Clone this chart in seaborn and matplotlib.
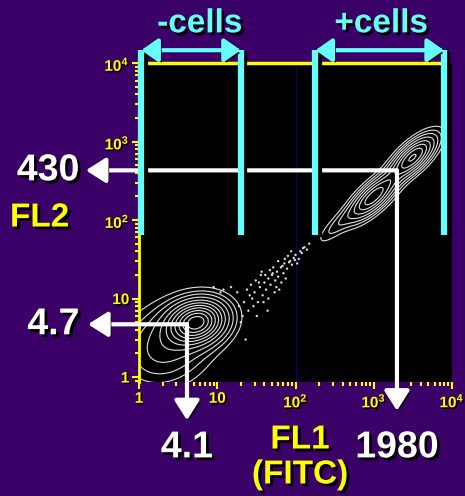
import matplotlib
matplotlib.use("Agg")
import matplotlib.pyplot as plt
import matplotlib.patheffects as pe
import numpy as np
import pandas as pd
import seaborn as sns

# colours
bg = "#3a0068"
cyan = "#66ffff"
yellow = "#ffff00"

# populations in log10 decades: (x centre, y centre, sd major, sd minor, angle deg, weight)
pop_x = [0.74, 0.35, 3.00, 3.50, 2.55]
pop_y = [0.70, 0.40, 2.30, 2.80, 1.95]
pop_sd_major = [0.22, 0.36, 0.24, 0.22, 0.22]
pop_sd_minor = [0.16, 0.28, 0.09, 0.09, 0.065]
pop_angle = [15, 30, 43, 43, 43]
pop_weight = [1.0, 0.22, 0.55, 0.6, 0.08]
contour_levels = [0.03, 0.06, 0.1, 0.16, 0.24, 0.33, 0.43, 0.54, 0.66, 0.78, 0.9]

# scattered events between the populations (FL1, FL2)
dot_fl1 = [22, 25, 28, 30, 24, 33, 35, 38, 40, 42, 45, 48, 50, 55, 58, 60, 65, 70, 72, 78,
           85, 90, 95, 100, 110, 115, 120, 130, 140, 150, 32, 45, 27, 52, 66, 36, 80, 18,
           20, 23, 60, 105, 12, 15, 9, 62, 44, 29, 37, 54, 75, 88, 26, 31, 47, 11, 200,
           34, 41, 57, 68, 83, 98, 125, 21, 19, 39, 51, 73]
dot_fl2 = [9, 7, 10, 12, 13, 9, 14, 11, 16, 13, 18, 15, 20, 17, 22, 19, 25, 21, 28, 24,
           30, 27, 33, 36, 32, 40, 38, 45, 42, 50, 6, 10, 15, 25, 16, 20, 35, 12,
           5, 3, 30, 28, 13, 14, 14, 13, 7, 8, 22, 12, 18, 40, 11, 17, 23, 12, 120,
           16, 20, 14, 26, 29, 31, 44, 6, 8, 9, 21, 32]
dots = pd.DataFrame({"FL1": dot_fl1, "FL2": dot_fl2})

# gates and readouts
neg_gate = [1.07, 20]
pos_gate = [180, 7900]
gate_top = 14600
gate_bottom = 65
neg_mean = (4.1, 4.7)
pos_mean = (1980, 430)
ticks = [1, 10, 100, 1000, 10000]
tick_labels = ["1", "10", r"$\mathbf{10^2}$", r"$\mathbf{10^3}$", r"$\mathbf{10^4}$"]

sns.set_style("dark")
plt.rcParams["font.family"] = ["Liberation Sans", "DejaVu Sans"]
plt.rcParams["mathtext.fontset"] = "custom"
plt.rcParams["mathtext.bf"] = "Liberation Sans:bold"
plt.rcParams["mathtext.rm"] = "Liberation Sans:bold"

fig = plt.figure(figsize=(4.65, 4.96), dpi=100)
fig.patch.set_facecolor(bg)
ax = fig.add_axes([0.299, 0.2298, 0.673, 0.643])
ax.set_facecolor("black")
ax.set_xscale("log")
ax.set_yscale("log")
ax.set_xlim(1, 1e4)
ax.set_ylim(0.864, 1e4)

# density grid in log space
gx, gy = np.meshgrid(np.linspace(0, 4, 400), np.linspace(-0.1, 4, 400))
dens = np.zeros_like(gx)
for cx, cy, sa, sb, ang, w in zip(pop_x, pop_y, pop_sd_major, pop_sd_minor, pop_angle, pop_weight):
    t = np.deg2rad(ang)
    u = (gx - cx) * np.cos(t) + (gy - cy) * np.sin(t)
    v = -(gx - cx) * np.sin(t) + (gy - cy) * np.cos(t)
    dens += w * np.exp(-0.5 * ((u / sa) ** 2 + (v / sb) ** 2))
dens = dens / dens.max()
ax.contour(10 ** gx, 10 ** gy, dens, levels=contour_levels, colors="#e0e0e0", linewidths=0.8)

sns.scatterplot(data=dots, x="FL1", y="FL2", s=3, color="#d8d8d8", edgecolor="none", ax=ax)

# faint grid line at 10^2
ax.axvline(100, color="#000080", lw=0.8, zorder=0.5)

shadow_txt = [pe.withSimplePatchShadow(offset=(2, -2), shadow_rgbFace="black", alpha=1)]
shadow_line = [pe.SimpleLineShadow(offset=(2.5, -1.5), shadow_color="black", alpha=1), pe.Normal()]

# readout arrows
arrow_kw = dict(arrowstyle="-|>,head_length=0.6,head_width=0.38", color="white", lw=3,
                shrinkA=0, shrinkB=0, mutation_scale=20)
for xy, xytext, tr in [((-0.17, pos_mean[1]), pos_mean, ax.get_yaxis_transform()),
                       ((pos_mean[0], -0.09), pos_mean, ax.get_xaxis_transform()),
                       ((-0.163, neg_mean[1]), neg_mean, ax.get_yaxis_transform()),
                       ((neg_mean[0], -0.12), neg_mean, ax.get_xaxis_transform())]:
    a = ax.annotate("", xy=xy, xycoords=tr, xytext=xytext, textcoords="data",
                    arrowprops=arrow_kw, annotation_clip=False, zorder=5)
    a.arrow_patch.set_path_effects([pe.withSimplePatchShadow(offset=(2, -2), shadow_rgbFace="black", alpha=1)])

# gates
for lo, hi in [neg_gate, pos_gate]:
    for xv in (lo, hi):
        ax.plot([xv, xv], [gate_bottom, gate_top], color=cyan, lw=4.5, clip_on=False,
                solid_capstyle="butt", path_effects=shadow_line, zorder=6)
    g = ax.annotate("", xy=(lo, gate_top), xytext=(hi, gate_top), xycoords="data",
                    arrowprops=dict(arrowstyle="<|-|>,head_length=0.5,head_width=0.35", color=cyan,
                                    lw=3, shrinkA=0, shrinkB=0, mutation_scale=20),
                    annotation_clip=False, zorder=6)
    g.arrow_patch.set_path_effects([pe.withSimplePatchShadow(offset=(2, -2), shadow_rgbFace="black", alpha=1)])

ax.text(6.0, 10 ** 4.5, "-cells", color=cyan, fontsize=24, fontweight="bold", ha="center",
        va="center", path_effects=shadow_txt, clip_on=False)
ax.text(1250, 10 ** 4.5, "+cells", color=cyan, fontsize=24, fontweight="bold", ha="center",
        va="center", path_effects=shadow_txt, clip_on=False)

# readout labels
big = dict(color="white", fontsize=27, fontweight="bold", path_effects=shadow_txt)
ax.text(-0.19, pos_mean[1], f"{pos_mean[1]}", transform=ax.get_yaxis_transform(), ha="right", va="center", **big)
ax.text(-0.19, neg_mean[1], f"{neg_mean[1]}", transform=ax.get_yaxis_transform(), ha="right", va="center", **big)
ax.text(pos_mean[0], -0.205, f"{pos_mean[0]}", transform=ax.get_xaxis_transform(), ha="center", va="center", **big)
ax.text(neg_mean[0], -0.205, f"{neg_mean[0]}", transform=ax.get_xaxis_transform(), ha="center", va="center", **big)

lab = dict(color=yellow, fontsize=24, fontweight="bold", path_effects=shadow_txt)
fig.text(10 / 465, 1 - 218 / 496, "FL2", ha="left", va="center", **lab)
fig.text(300 / 465, 1 - 440 / 496, "FL1", ha="center", va="center", **lab)
fig.text(300 / 465, 1 - 475 / 496, "(FITC)", ha="center", va="center", **lab)

# axes styling
ax.set_xticks(ticks)
ax.set_xticklabels(tick_labels)
ax.set_yticks(ticks)
ax.set_yticklabels(tick_labels)
ax.set_xlabel("")
ax.set_ylabel("")
ax.grid(False)
ax.tick_params(which="both", direction="out", color=yellow, width=1.5, labelcolor=yellow,
               labelsize=11, bottom=True, left=True)
ax.tick_params(which="major", length=5, pad=2)
ax.tick_params(which="minor", length=3)
for lbl in ax.get_xticklabels() + ax.get_yticklabels():
    lbl.set_fontweight("bold")
    lbl.set_path_effects([pe.withSimplePatchShadow(offset=(1.2, -1.2), shadow_rgbFace="black", alpha=1)])
ax.spines["left"].set_color(yellow)
ax.spines["left"].set_linewidth(2)
ax.spines["top"].set_color(yellow)
ax.spines["top"].set_linewidth(2.5)
ax.spines["top"].set_bounds(1, pos_gate[1])
ax.spines["bottom"].set_visible(False)
ax.spines["right"].set_visible(False)

fig.savefig("out.png", dpi=100, facecolor=bg)
